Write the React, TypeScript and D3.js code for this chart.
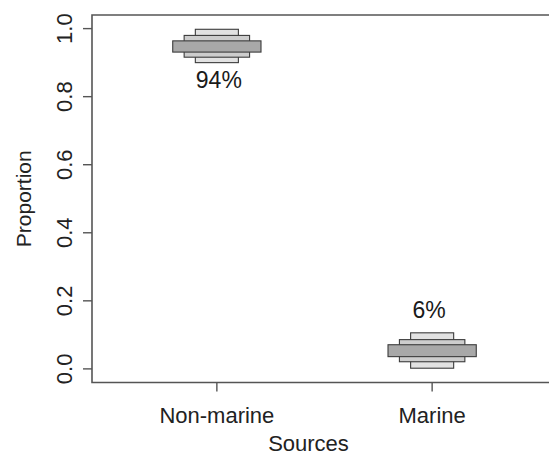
import React from "react";
import * as d3 from "d3";

// Source categories and posterior proportion intervals
const categories = ["Non-marine", "Marine"];
const lower95 = [0.900, 0.002];
const upper95 = [0.998, 0.106];
const lower75 = [0.916, 0.021];
const upper75 = [0.980, 0.086];
const lower50 = [0.931, 0.036];
const upper50 = [0.964, 0.071];
const means = [0.94, 0.06];
const yTicks = [0, 0.2, 0.4, 0.6, 0.8, 1.0];

const W = 549;
const H = 456;
const FONT = "'Liberation Sans', Arial, Helvetica, sans-serif";

export default function App() {
  const x = d3.scaleLinear().domain([0.42, 2.58]).range([92, 557]);
  const y = d3.scaleLinear().domain([-0.04, 1.04]).range([382.5, 15]);

  const left = x(0.42);
  const right = x(2.58);
  const top = y(1.04);
  const bottom = y(-0.04);

  // interval layers: widest range drawn first (narrow, light), tightest on top (wide, dark)
  const layers = [
    { lo: lower95, hi: upper95, half: 0.1, fill: "#e2e2e2" },
    { lo: lower75, hi: upper75, half: 0.152, fill: "#cdcdcd" },
    { lo: lower50, hi: upper50, half: 0.205, fill: "#a8a8a8" },
  ];

  return (
    <svg width={W} height={H} style={{ position: "absolute", left: 0, top: 0, background: "#fff" }}>
      {/* plot frame (right side runs past the edge) */}
      <path
        d={`M${right},${top}H${left}V${bottom}H${right}`}
        fill="none"
        stroke="#555"
        strokeWidth={1.6}
      />
      {/* y axis ticks and labels */}
      {yTicks.map((t) => (
        <g key={t}>
          <line x1={left - 9} x2={left} y1={y(t)} y2={y(t)} stroke="#555" strokeWidth={1.4} />
          <text
            transform={`translate(72,${y(t)}) rotate(-90)`}
            textAnchor="middle"
            fontFamily={FONT}
            fontSize={22}
            fill="#222"
          >
            {d3.format(".1f")(t)}
          </text>
        </g>
      ))}
      <text
        transform={`translate(31,${(top + bottom) / 2}) rotate(-90)`}
        textAnchor="middle"
        fontFamily={FONT}
        fontSize={21}
        fill="#222"
      >
        Proportion
      </text>
      {/* x axis ticks and labels */}
      {categories.map((c, i) => (
        <g key={c}>
          <line x1={x(i + 1)} x2={x(i + 1)} y1={bottom} y2={bottom + 9} stroke="#555" strokeWidth={1.4} />
          <text x={x(i + 1)} y={423} textAnchor="middle" fontFamily={FONT} fontSize={22} fill="#222">
            {c}
          </text>
        </g>
      ))}
      <text x={(left + 557) / 2 - 16} y={451} textAnchor="middle" fontFamily={FONT} fontSize={22} fill="#222">
        Sources
      </text>
      {/* stacked interval boxes */}
      {layers.map((L, li) =>
        categories.map((c, i) => (
          <rect
            key={`${li}-${c}`}
            x={x(i + 1 - L.half)}
            width={x(i + 1 + L.half) - x(i + 1 - L.half)}
            y={y(L.hi[i])}
            height={y(L.lo[i]) - y(L.hi[i])}
            fill={L.fill}
            stroke="#3c3c3c"
            strokeWidth={1.1}
          />
        ))
      )}
      {/* proportion labels */}
      {categories.map((c, i) => {
        const below = means[i] > 0.5;
        const ly = below ? y(lower95[i]) + 25 : y(upper95[i]) - 15;
        return (
          <text
            key={`lab-${c}`}
            x={x(i + 1) + (below ? 2 : -3)}
            y={ly}
            textAnchor="middle"
            fontFamily={FONT}
            fontSize={23}
            fill="#1a1a1a"
          >
            {`${Math.round(means[i] * 100)}%`}
          </text>
        );
      })}
    </svg>
  );
}
